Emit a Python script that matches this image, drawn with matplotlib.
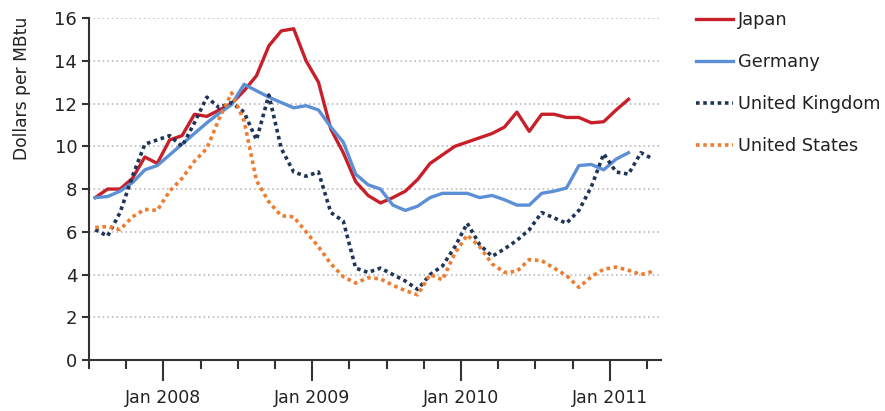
import numpy as np
from matplotlib import pyplot as plt

# monthly prices, first value = Jul 2007
japan = [7.6, 8.0, 8.0, 8.5, 9.5, 9.2, 10.3, 10.5, 11.5, 11.4, 11.7, 12.0,
         12.6, 13.3, 14.7, 15.4, 15.5, 14.0, 13.0, 10.8, 9.7, 8.35, 7.7, 7.35,
         7.6, 7.9, 8.45, 9.2, 9.6, 10.0, 10.2, 10.4, 10.6, 10.9, 11.6, 10.7,
         11.5, 11.5, 11.35, 11.35, 11.1, 11.15, 11.7, 12.2]
germany = [7.6, 7.65, 7.9, 8.3, 8.9, 9.1, 9.6, 10.1, 10.6, 11.1, 11.55, 11.95,
           12.9, 12.6, 12.3, 12.05, 11.8, 11.9, 11.7, 10.9, 10.2, 8.7, 8.2, 8.0,
           7.25, 7.0, 7.2, 7.6, 7.8, 7.8, 7.8, 7.6, 7.7, 7.5, 7.25, 7.25,
           7.8, 7.9, 8.05, 9.1, 9.15, 8.9, 9.4, 9.7]
uk = [6.1, 5.8, 6.9, 8.6, 10.1, 10.3, 10.5, 10.0, 11.1, 12.3, 11.8, 12.05,
      11.6, 10.3, 12.4, 9.9, 8.8, 8.6, 8.8, 6.9, 6.5, 4.3, 4.1, 4.3,
      4.0, 3.7, 3.3, 4.0, 4.4, 5.3, 6.4, 5.4, 4.85, 5.2, 5.6, 6.1,
      6.9, 6.65, 6.4, 7.0, 8.1, 9.65, 8.8, 8.7, 9.7, 9.4]
us = [6.2, 6.25, 6.1, 6.7, 7.05, 7.0, 7.9, 8.5, 9.3, 9.9, 11.3, 12.5,
      11.2, 8.4, 7.4, 6.75, 6.7, 6.0, 5.3, 4.5, 3.9, 3.6, 3.85, 3.8,
      3.5, 3.25, 3.05, 4.0, 3.75, 5.0, 5.85, 5.3, 4.5, 4.1, 4.15, 4.7,
      4.65, 4.3, 3.95, 3.4, 3.9, 4.25, 4.35, 4.2, 4.0, 4.15]

year_labels = ["Jan 2008", "Jan 2009", "Jan 2010", "Jan 2011"]

fig = plt.figure(figsize=(8.85, 4.11), dpi=100)
ax = fig.add_axes([0.1006, 0.124, 0.646, 0.832])

dots = (0, (1, 1))
ax.plot(np.arange(len(japan)) + 0.5, japan, color="#c8202a", lw=2.4,
        label="Japan")
ax.plot(np.arange(len(germany)) + 0.5, germany, color="#5b8fd6", lw=2.4,
        label="Germany")
ax.plot(np.arange(len(uk)) + 0.5, uk, color="#1f3557", lw=2.6,
        linestyle=dots, label="United Kingdom")
ax.plot(np.arange(len(us)) + 0.5, us, color="#ee7d31", lw=2.6,
        linestyle=dots, label="United States")

ax.set_xlim(0, 46.1)
ax.set_ylim(0, 16)
ax.set_yticks(range(0, 17, 2))
ax.set_xticks([6, 18, 30, 42])
ax.set_xticklabels(year_labels)
ax.set_xticks([0, 3, 9, 12, 15, 21, 24, 27, 33, 36, 39, 45], minor=True)

ax.tick_params(axis="x", which="major", length=15, width=1.5, color="#333333",
               labelsize=12.5, pad=6, labelcolor="#222222")
ax.tick_params(axis="x", which="minor", length=6.5, width=1.5, color="#333333")
ax.tick_params(axis="y", length=5, width=1.5, color="#333333", labelsize=13,
               labelcolor="#222222")

for s in ["top", "right"]:
    ax.spines[s].set_visible(False)
for s in ["left", "bottom"]:
    ax.spines[s].set_color("#333333")
    ax.spines[s].set_linewidth(1.5)

ax.yaxis.grid(True, linestyle=(0, (1, 2)), color="#b0b0b0", lw=1.1)
ax.set_axisbelow(True)
ax.set_ylabel("Dollars per MBtu", fontsize=12.3, color="#222222")
ax.yaxis.set_label_coords(-0.101, 0.795)

ax.legend(loc="upper left", bbox_to_anchor=(0.768, 1.012),
          bbox_transform=fig.transFigure, frameon=False, fontsize=12.8,
          handlelength=2.1, handletextpad=0.3, labelspacing=1.35,
          labelcolor="#222222")

plt.savefig("out.png", dpi=100)
